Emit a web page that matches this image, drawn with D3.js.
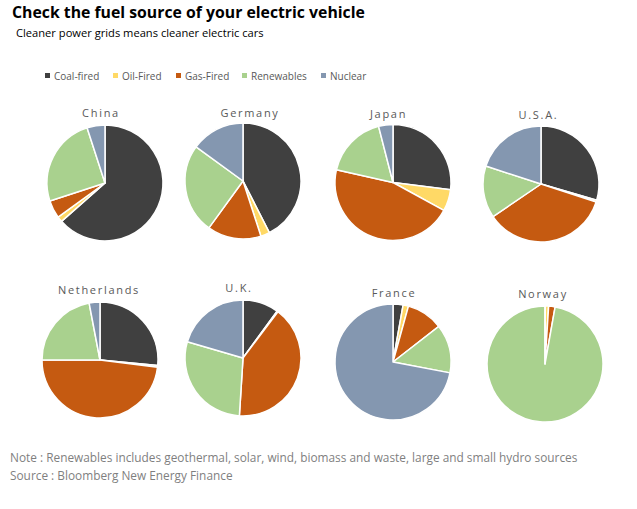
<!DOCTYPE html>
<html><head><meta charset="utf-8">
<script src="https://cdn.jsdelivr.net/npm/d3@7"></script>
<style>
html,body{margin:0;padding:0;background:#fff;}
svg{display:block;}
</style></head>
<body>
<svg id="chart" width="637" height="509"></svg>
<script>
// ---- data ----
const countries = ["China","Germany","Japan","U.S.A.","Netherlands","U.K.","France","Norway"];
const fuels = ["Coal-fired","Oil-Fired","Gas-Fired","Renewables","Nuclear"];
const coalFired  = [63.5, 42.5, 27.0, 29.5, 26.5, 10.0, 2.8, 0.0];
const oilFired   = [ 1.5,  2.5,  6.0,  0.5,  0.5,  0.3, 1.5, 1.0];
const gasFired   = [ 5.0, 15.0, 45.5, 35.5, 48.0, 40.7, 10.2, 1.8];
const renewables = [25.0, 25.0, 17.5, 14.5, 22.0, 28.5, 13.5, 97.2];
const nuclear    = [ 5.0, 15.0,  4.0, 20.0,  3.0, 20.5, 72.0, 0.0];
const series = [coalFired, oilFired, gasFired, renewables, nuclear];

const colors = ["#404040","#ffd966","#c55a11","#a9d18e","#8497b0"];

// ---- layout ----
const svg = d3.select("#chart");
const pieCX = [105, 243, 393, 541, 100, 243, 393, 545];
const pieCY = [183, 181, 182.5, 184, 360, 358, 362, 364];
const labelCX = [101, 250, 388.5, 538.5, 99, 239, 394, 543];
const labelY = [117, 117, 118, 119, 294, 292, 297, 298];
const R = 58;
const FONT = "'Open Sans', sans-serif";

// title
svg.append("text").attr("x", 12).attr("y", 18)
  .attr("font-family", FONT).attr("font-weight", "bold")
  .attr("font-size", 15.8).attr("fill", "#000")
  .text("Check the fuel source of your electric vehicle");
svg.append("text").attr("x", 16).attr("y", 37)
  .attr("font-family", FONT)
  .attr("font-size", 11.15).attr("fill", "#000")
  .text("Cleaner power grids means cleaner electric cars");

// legend
const legendX = [45, 113, 176, 242, 321];
const lg = svg.append("g");
fuels.forEach((f, i) => {
  lg.append("rect").attr("x", legendX[i]).attr("y", 73).attr("width", 5).attr("height", 5)
    .attr("fill", colors[i]);
  lg.append("text").attr("x", legendX[i] + 9).attr("y", 80)
    .attr("font-family", FONT).attr("font-size", 10)
    .attr("fill", "#595959").text(f);
});

// pies
const pie = d3.pie().sort(null).value(d => d.v);
const arc = d3.arc().innerRadius(0).outerRadius(R);

countries.forEach((c, k) => {
  const cx = pieCX[k], cy = pieCY[k];
  const g = svg.append("g").attr("transform", `translate(${cx},${cy})`);
  const data = fuels.map((f, i) => ({ f, i, v: series[i][k] }));
  g.selectAll("path").data(pie(data)).join("path")
    .attr("d", arc)
    .attr("fill", d => colors[d.data.i])
    .attr("stroke", "#fff").attr("stroke-width", 1.5)
    .attr("stroke-linejoin", "round");
  svg.append("text").attr("x", labelCX[k]).attr("y", labelY[k])
    .attr("text-anchor", "middle")
    .attr("font-family", FONT).attr("font-size", 11)
    .attr("letter-spacing", 1.7).attr("fill", "#595959")
    .text(c);
});

// footer
svg.append("text").attr("x", 10).attr("y", 462)
  .attr("font-family", FONT).attr("font-size", 11.85)
  .attr("fill", "#7f7f7f")
  .text("Note : Renewables includes geothermal, solar, wind, biomass and waste, large and small hydro sources");
svg.append("text").attr("x", 10).attr("y", 480)
  .attr("font-family", FONT).attr("font-size", 11.85)
  .attr("fill", "#7f7f7f")
  .text("Source : Bloomberg New Energy Finance");
</script>
</body></html>
